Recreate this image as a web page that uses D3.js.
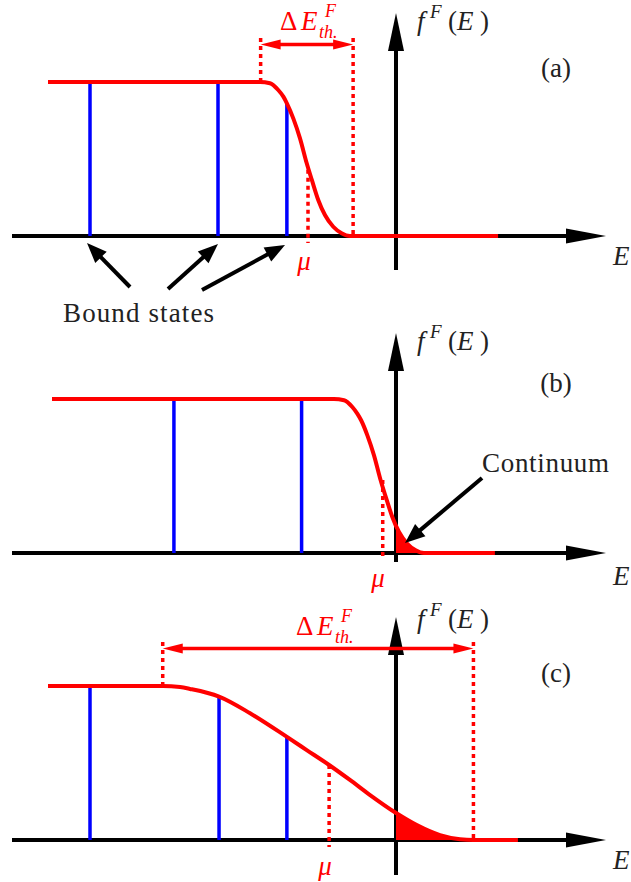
<!DOCTYPE html>
<html><head><meta charset="utf-8">
<script src="https://cdn.jsdelivr.net/npm/d3@7"></script>
<style>html,body{margin:0;padding:0;background:#fff;} svg{display:block} text{font-family:"Liberation Serif","DejaVu Serif","Times New Roman",serif;}</style>
</head><body>
<script>
// ---------------- data (energy E in arbitrary units, occupation f in [0,1]) ----------------
const panelLabels = ["(a)", "(b)", "(c)"];

// Fermi occupation curves
const curveA_E = [-10.875, -4.25, -3.94, -3.68, -3.52, -3.41, -3.21, -3.0, -2.79, -2.63, -2.43, -2.22, -1.96, -1.70, -1.44, 3.19];
const curveA_f = [1, 1, 0.992, 0.948, 0.905, 0.862, 0.764, 0.634, 0.472, 0.364, 0.234, 0.136, 0.060, 0.018, 0, 0];

const curveB_E = [-10.75, -1.94, -1.625, -1.365, -1.21, -1.09, -0.895, -0.6875, -0.48, -0.32, -0.115, 0.094, 0.353, 0.615, 0.875, 3.09];
const curveB_f = [1, 1, 0.992, 0.948, 0.905, 0.862, 0.764, 0.634, 0.472, 0.364, 0.234, 0.136, 0.060, 0.018, 0, 0];

const curveC_E = [-10.875, -7.29, -6.75, -6.44, -5.53, -4.56, -3.42, -2.79, -2.09, -1.44, -0.81, -0.01, 0.65, 1.375, 2.0, 2.42, 3.81];
const curveC_f = [1, 1, 0.993, 0.981, 0.931, 0.823, 0.671, 0.584, 0.487, 0.390, 0.292, 0.177, 0.097, 0.032, 0.005, 0, 0];

// bound states (blue lines): energy and height
const boundA_E = [-9.5625, -5.5625, -3.41];
const boundA_f = [1, 1, 0.862];
const boundB_E = [-6.94, -2.95];
const boundB_f = [1, 1];
const boundC_E = [-9.5625, -5.53, -3.41];
const boundC_f = [1, 0.931, 0.671];

// chemical potential
const mu_E = [-2.75, -0.415, -2.09];
const mu_f = [0.43, 0.474, 0.487];

// thermal window Delta E_th (panel a and c)
const thermalLeft_E = [-4.23, null, -7.29];
const thermalRight_E = [-1.34, null, 2.42];

// continuum filled region (panel b and c)
const hasContinuum = [false, true, true];

// ---------------- drawing ----------------
const W = 631, H = 882;
const svg = d3.select("body").append("svg").attr("width", W).attr("height", H);
const x = d3.scaleLinear().domain([-12, 6.5]).range([12, 604]);
const RED = "#ff0000", BLUE = "#0000ff", INK = "#222";

const curves = [
  {E: curveA_E, f: curveA_f, bE: boundA_E, bf: boundA_f},
  {E: curveB_E, f: curveB_f, bE: boundB_E, bf: boundB_f},
  {E: curveC_E, f: curveC_f, bE: boundC_E, bf: boundC_f}
];

const layout = [
  {axisY: 236, vTop: 13,  vBot: 270, fBase: 30,  labBase: 77,  eBase: 265, muX: 304, muBase: 270, dBase: 30,  dX: 280},
  {axisY: 553, vTop: 333, vBot: 562, fBase: 350, labBase: 392, eBase: 585, muX: 378, muBase: 587},
  {axisY: 840, vTop: 617, vBot: 875, fBase: 628, labBase: 682, eBase: 869, muX: 325, muBase: 875, dBase: 635, dX: 296}
];

function arrow(g, x1, y1, x2, y2, len, half, color, w) {
  const dx = x2 - x1, dy = y2 - y1, Ln = Math.hypot(dx, dy), ux = dx / Ln, uy = dy / Ln;
  const bx = x2 - ux * len, by = y2 - uy * len;
  g.append("line").attr("x1", x1).attr("y1", y1).attr("x2", bx + ux * 2).attr("y2", by + uy * 2)
    .attr("stroke", color).attr("stroke-width", w);
  g.append("path")
    .attr("d", `M${x2},${y2}L${bx - uy * half},${by + ux * half}L${bx + uy * half},${by - ux * half}Z`)
    .attr("fill", color);
}
function dblArrow(g, x1, y, x2, len, half, color, w) {
  g.append("line").attr("x1", x1 + len - 2).attr("y1", y).attr("x2", x2 - len + 2).attr("y2", y)
    .attr("stroke", color).attr("stroke-width", w);
  g.append("path").attr("d", `M${x1},${y}L${x1 + len},${y - half}L${x1 + len},${y + half}Z`).attr("fill", color);
  g.append("path").attr("d", `M${x2},${y}L${x2 - len},${y - half}L${x2 - len},${y + half}Z`).attr("fill", color);
}

curves.forEach((c, i) => {
  const L = layout[i];
  const y = d3.scaleLinear().domain([0, 1]).range([L.axisY, L.axisY - 154]);
  const g = svg.append("g");
  const pts = c.E.map((e, j) => [e, c.f[j]]);

  // axes
  arrow(g, 12, L.axisY, 606, L.axisY, 40, 7.5, "#000", 4);
  arrow(g, x(0), L.vBot, x(0), L.vTop, 38, 8, "#000", 4);

  // continuum fill (E > 0)
  if (hasContinuum[i]) {
    const cid = "clip" + i;
    svg.append("defs").append("clipPath").attr("id", cid)
      .append("rect").attr("x", x(0)).attr("y", 0).attr("width", W - x(0)).attr("height", H);
    g.append("path").datum(pts)
      .attr("clip-path", `url(#${cid})`)
      .attr("fill", RED)
      .attr("d", d3.area().x(d => x(d[0])).y0(y(0)).y1(d => y(d[1])).curve(d3.curveMonotoneX));
  }

  // bound states
  g.selectAll(".bound").data(c.bE.map((e, j) => [e, c.bf[j]])).enter().append("line")
    .attr("x1", d => x(d[0])).attr("x2", d => x(d[0]))
    .attr("y1", y(0)).attr("y2", d => y(d[1]))
    .attr("stroke", BLUE).attr("stroke-width", 3.5);

  // chemical potential
  g.append("line").attr("x1", x(mu_E[i])).attr("x2", x(mu_E[i]))
    .attr("y1", y(mu_f[i])).attr("y2", y(-0.045))
    .attr("stroke", RED).attr("stroke-width", 3.5).attr("stroke-dasharray", "4,4");

  // thermal window
  if (thermalLeft_E[i] !== null) {
    const xl = x(thermalLeft_E[i]), xr = x(thermalRight_E[i]);
    g.append("line").attr("x1", xl).attr("x2", xl).attr("y1", y(1.285)).attr("y2", y(1))
      .attr("stroke", RED).attr("stroke-width", 3.5).attr("stroke-dasharray", "4,4");
    g.append("line").attr("x1", xr).attr("x2", xr).attr("y1", y(1.285)).attr("y2", y(0))
      .attr("stroke", RED).attr("stroke-width", 3.5).attr("stroke-dasharray", "4,4");
    dblArrow(g, xl, y(1.243), xr, 20, 5, RED, 3.5);
    const t = g.append("text").attr("fill", RED).attr("font-size", 27);
    t.append("tspan").attr("x", L.dX).attr("y", L.dBase).text("Δ");
    t.append("tspan").attr("x", L.dX + 21).attr("y", L.dBase).attr("font-style", "italic").text("E");
    g.append("text").attr("fill", RED).attr("font-size", 18).attr("font-style", "italic")
      .attr("x", L.dX + 45).attr("y", L.dBase - 13.5).text("F");
    g.append("text").attr("fill", RED).attr("font-size", 18).attr("font-style", "italic")
      .attr("x", L.dX + 39).attr("y", L.dBase + 7.5).text("th.");
  }

  // occupation curve
  g.append("path").datum(pts)
    .attr("fill", "none").attr("stroke", RED).attr("stroke-width", 4)
    .attr("d", d3.line().x(d => x(d[0])).y(d => y(d[1])).curve(d3.curveMonotoneX));

  // f^F(E) label
  const ft = g.append("text").attr("fill", INK).attr("font-size", 27);
  ft.append("tspan").attr("x", 417).attr("y", L.fBase).attr("font-style", "italic").text("f");
  ft.append("tspan").attr("x", 430).attr("y", L.fBase - 12).attr("font-style", "italic").attr("font-size", 19).text("F");
  ft.append("tspan").attr("x", 448).attr("y", L.fBase).text("(");
  ft.append("tspan").attr("x", 457).attr("y", L.fBase).attr("font-style", "italic").text("E");
  ft.append("tspan").attr("x", 480).attr("y", L.fBase).text(")");

  // panel label
  g.append("text").attr("x", 556).attr("y", L.labBase).attr("text-anchor", "middle")
    .attr("font-size", 27).attr("fill", INK).text(panelLabels[i]);
  // axis label E
  g.append("text").attr("x", 613).attr("y", L.eBase).attr("font-style", "italic")
    .attr("font-size", 27).attr("fill", INK).text("E");
  // mu label
  g.append("text").attr("x", L.muX).attr("y", L.muBase).attr("text-anchor", "middle").attr("font-style", "italic")
    .attr("font-size", 27).attr("fill", RED).text("μ");
});

// annotations
const ann = svg.append("g");
arrow(ann, 130, 287, 87, 243, 20, 8, "#000", 4);
arrow(ann, 168, 289, 218, 244, 20, 8, "#000", 4);
arrow(ann, 202, 290, 285, 245, 20, 8, "#000", 4);
ann.append("text").attr("x", 63).attr("y", 322).attr("font-size", 27)
  .attr("fill", INK).attr("textLength", 151).attr("lengthAdjust", "spacing").text("Bound states");
arrow(ann, 482, 478, 405, 543, 20, 8, "#000", 4);
ann.append("text").attr("x", 482).attr("y", 472).attr("font-size", 27)
  .attr("fill", INK).attr("textLength", 127).attr("lengthAdjust", "spacing").text("Continuum");
</script>
</body></html>
